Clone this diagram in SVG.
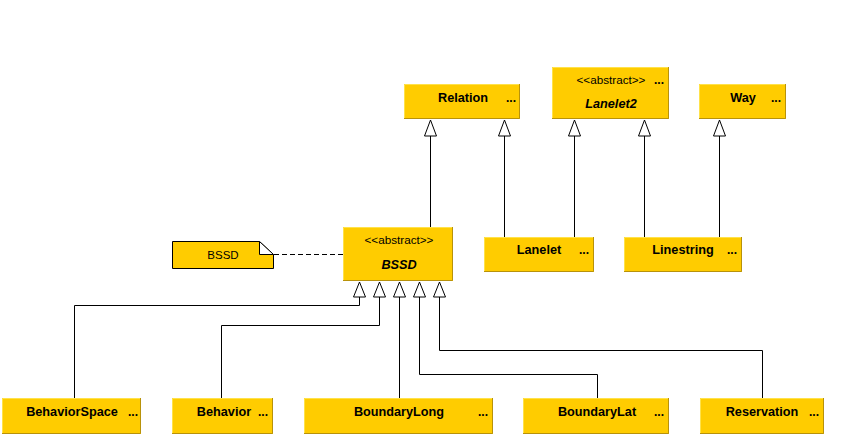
<svg xmlns="http://www.w3.org/2000/svg" width="865" height="435" viewBox="0 0 865 435">
<style>
.box{fill:#FFCC00}
.hl{fill:none;stroke:#FFE24A;stroke-width:1}
.sh{fill:none;stroke:#B8920A;stroke-width:1}
.t{font-family:"Liberation Sans",Arial,sans-serif;font-weight:bold;font-size:12.7px;fill:#000;text-anchor:middle}
.ti{font-style:italic}
.st{font-family:"Liberation Sans",Arial,sans-serif;font-size:11.7px;fill:#000;text-anchor:middle}
.dots{font-family:"Liberation Sans",Arial,sans-serif;font-weight:bold;font-size:12px;fill:#000;text-anchor:middle}
.ln{fill:none;stroke:#000;stroke-width:1}
.arr{fill:#fff;stroke:#000;stroke-width:1}
</style>
<rect width="865" height="435" fill="#fff"/>
<g id="connectors">
<!-- top generalizations -->
<path class="ln" d="M430.5,227 V136"/>
<path class="ln" d="M504.5,237 V136"/>
<path class="ln" d="M574.5,237 V136"/>
<path class="ln" d="M644.5,237 V136"/>
<path class="ln" d="M719.5,237 V136"/>
<path class="arr" d="M430.5,120 L424.5,136 L436.5,136 Z"/>
<path class="arr" d="M504.5,120 L498.5,136 L510.5,136 Z"/>
<path class="arr" d="M574.5,120 L568.5,136 L580.5,136 Z"/>
<path class="arr" d="M644.5,120 L638.5,136 L650.5,136 Z"/>
<path class="arr" d="M719.5,120 L713.5,136 L725.5,136 Z"/>
<!-- bottom generalizations -->
<path class="ln" d="M74.5,398 V305.5 H359.5 V297"/>
<path class="ln" d="M221.5,398 V325.5 H379.5 V297"/>
<path class="ln" d="M399.5,398 V297"/>
<path class="ln" d="M597.5,398 V374.5 H419.5 V297"/>
<path class="ln" d="M762.5,398 V350.5 H439.5 V297"/>
<path class="arr" d="M359.5,282 L353.5,297 L365.5,297 Z"/>
<path class="arr" d="M379.5,282 L373.5,297 L385.5,297 Z"/>
<path class="arr" d="M399.5,282 L393.5,297 L405.5,297 Z"/>
<path class="arr" d="M419.5,282 L413.5,297 L425.5,297 Z"/>
<path class="arr" d="M439.5,282 L433.5,297 L445.5,297 Z"/>
<!-- note link -->
<path class="ln" d="M274,254.5 H343" stroke-dasharray="5,3"/>
</g>
<g id="Relation">
<rect class="box" x="404" y="84" width="116" height="35"/>
<path class="hl" d="M404.5,119 V84.5 H520"/><path class="sh" d="M404,118.5 H519.5 V84"/>
<text class="t" x="463" y="102">Relation</text><text class="dots" x="511" y="102">...</text>
</g>
<g id="Lanelet2">
<rect class="box" x="552" y="67" width="117" height="52"/>
<path class="hl" d="M552.5,119 V67.5 H669"/><path class="sh" d="M552,118.5 H668.5 V67"/>
<text class="st" x="611" y="84">&lt;&lt;abstract&gt;&gt;</text><text class="dots" x="659" y="84">...</text>
<text class="t ti" x="611" y="108">Lanelet2</text>
</g>
<g id="Way">
<rect class="box" x="699" y="84" width="87" height="35"/>
<path class="hl" d="M699.5,119 V84.5 H786"/><path class="sh" d="M699,118.5 H785.5 V84"/>
<text class="t" x="743" y="102">Way</text><text class="dots" x="776" y="102">...</text>
</g>
<g id="BSSD">
<rect class="box" x="343" y="227" width="110" height="54"/>
<path class="hl" d="M343.5,281 V227.5 H453"/><path class="sh" d="M343,280.5 H452.5 V227"/>
<text class="st" x="399" y="244">&lt;&lt;abstract&gt;&gt;</text>
<text class="t ti" x="399" y="269">BSSD</text>
</g>
<g id="note">
<path d="M172.5,241.5 H259.5 L273.5,254.5 V268.5 H172.5 Z" fill="#FFCC00" stroke="#000" stroke-width="1"/>
<path d="M259.5,241.5 V254.5 H273.5 Z" fill="#fff" stroke="#000" stroke-width="1"/>
<text class="st" x="223" y="259" style="font-size:11.5px">BSSD</text>
</g>
<g id="Lanelet">
<rect class="box" x="484" y="237" width="110" height="35"/>
<path class="hl" d="M484.5,272 V237.5 H594"/><path class="sh" d="M484,271.5 H593.5 V237"/>
<text class="t" x="539" y="254">Lanelet</text><text class="dots" x="584" y="254">...</text>
</g>
<g id="Linestring">
<rect class="box" x="624" y="237" width="118" height="35"/>
<path class="hl" d="M624.5,272 V237.5 H742"/><path class="sh" d="M624,271.5 H741.5 V237"/>
<text class="t" x="683" y="254">Linestring</text><text class="dots" x="732" y="254">...</text>
</g>
<g id="BehaviorSpace">
<rect class="box" x="2" y="398" width="139" height="36"/>
<path class="hl" d="M2.5,434 V398.5 H141"/><path class="sh" d="M2,433.5 H140.5 V398"/>
<text class="t" x="72" y="416">BehaviorSpace</text><text class="dots" x="133" y="416">...</text>
</g>
<g id="Behavior">
<rect class="box" x="172" y="398" width="101" height="36"/>
<path class="hl" d="M172.5,434 V398.5 H273"/><path class="sh" d="M172,433.5 H272.5 V398"/>
<text class="t" x="224" y="416">Behavior</text><text class="dots" x="263" y="416">...</text>
</g>
<g id="BoundaryLong">
<rect class="box" x="304" y="398" width="189" height="36"/>
<path class="hl" d="M304.5,434 V398.5 H493"/><path class="sh" d="M304,433.5 H492.5 V398"/>
<text class="t" x="399" y="416">BoundaryLong</text><text class="dots" x="483" y="416">...</text>
</g>
<g id="BoundaryLat">
<rect class="box" x="523" y="398" width="146" height="36"/>
<path class="hl" d="M523.5,434 V398.5 H669"/><path class="sh" d="M523,433.5 H668.5 V398"/>
<text class="t" x="597" y="416">BoundaryLat</text><text class="dots" x="659" y="416">...</text>
</g>
<g id="Reservation">
<rect class="box" x="700" y="398" width="124" height="36"/>
<path class="hl" d="M700.5,434 V398.5 H824"/><path class="sh" d="M700,433.5 H823.5 V398"/>
<text class="t" x="762" y="416">Reservation</text><text class="dots" x="814" y="416">...</text>
</g>
</svg>
